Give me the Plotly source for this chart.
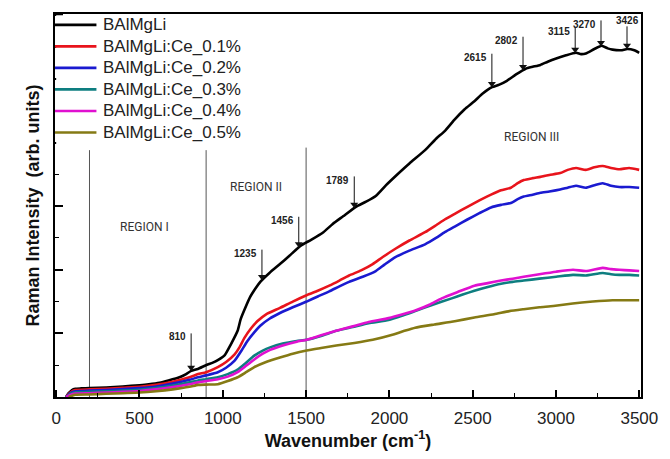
import numpy as np
import plotly.graph_objects as go

# ---------------- data ----------------
names = ["BAlMgLi", "BAlMgLi:Ce_0.1%", "BAlMgLi:Ce_0.2%", "BAlMgLi:Ce_0.3%",
         "BAlMgLi:Ce_0.4%", "BAlMgLi:Ce_0.5%"]
colors = ["#000000", "#e8141c", "#1a1ad0", "#0e7e80", "#e010d0", "#857a14"]

wn_black = [60, 75, 95, 115, 150, 200, 300, 400, 500, 556, 620, 674, 740, 780, 810, 850, 899, 940,
            970, 1012, 1047, 1089, 1107, 1130, 1166, 1200, 1225, 1280, 1343, 1400, 1468, 1530, 1604,
            1660, 1722, 1799, 1860, 1918, 1980, 2036, 2120, 2214, 2280, 2332, 2391, 2450, 2510, 2560,
            2616, 2660, 2705, 2760, 2818, 2860, 2906, 2950, 3001, 3060, 3120, 3150, 3179, 3230, 3274,
            3310, 3339, 3390, 3428, 3470, 3499]
int_black = [0.0, 0.06, 0.11, 0.13, 0.135, 0.14, 0.15, 0.165, 0.185, 0.20, 0.225, 0.26, 0.31, 0.36,
             0.41, 0.44, 0.50, 0.54, 0.58, 0.66, 0.82, 1.04, 1.22, 1.37, 1.58, 1.72, 1.81, 1.95, 2.09,
             2.22, 2.38, 2.47, 2.59, 2.72, 2.84, 2.99, 3.07, 3.16, 3.33, 3.47, 3.67, 3.88, 4.06, 4.18,
             4.36, 4.52, 4.65, 4.77, 4.87, 4.91, 4.97, 5.07, 5.16, 5.19, 5.22, 5.27, 5.32, 5.37, 5.41,
             5.39, 5.40, 5.47, 5.52, 5.48, 5.46, 5.45, 5.47, 5.45, 5.41]

wn_red = [60, 75, 95, 115, 200, 300, 400, 500, 600, 700, 800, 852, 900, 970, 1020, 1071, 1100, 1130,
          1170, 1207, 1260, 1343, 1420, 1503, 1570, 1639, 1700, 1758, 1830, 1900, 1960, 2036, 2120,
          2214, 2280, 2332, 2400, 2468, 2540, 2610, 2670, 2729, 2770, 2806, 2860, 2906, 2960, 3025,
          3070, 3120, 3179, 3230, 3280, 3330, 3380, 3439, 3499]
int_red = [0.0, 0.05, 0.09, 0.11, 0.12, 0.13, 0.145, 0.16, 0.19, 0.24, 0.31, 0.36, 0.39, 0.47, 0.55,
           0.67, 0.78, 0.93, 1.08, 1.19, 1.30, 1.40, 1.50, 1.60, 1.67, 1.75, 1.83, 1.91, 1.99, 2.09,
           2.20, 2.33, 2.46, 2.59, 2.70, 2.79, 2.89, 2.99, 3.09, 3.18, 3.25, 3.29, 3.36, 3.41, 3.44,
           3.46, 3.49, 3.52, 3.57, 3.60, 3.57, 3.61, 3.63, 3.60, 3.58, 3.60, 3.57]

wn_blue = [60, 75, 95, 115, 200, 300, 400, 500, 600, 700, 800, 852, 900, 970, 1020, 1071, 1110, 1148,
           1190, 1225, 1280, 1343, 1420, 1503, 1570, 1639, 1700, 1758, 1840, 1918, 1970, 2036, 2120,
           2214, 2280, 2332, 2400, 2468, 2540, 2610, 2670, 2729, 2770, 2806, 2860, 2906, 2960, 3025,
           3070, 3120, 3179, 3230, 3280, 3330, 3380, 3440, 3499]
int_blue = [0.0, 0.04, 0.075, 0.09, 0.10, 0.11, 0.125, 0.14, 0.165, 0.21, 0.27, 0.31, 0.34, 0.39,
            0.46, 0.57, 0.72, 0.88, 1.02, 1.12, 1.23, 1.32, 1.41, 1.50, 1.58, 1.66, 1.74, 1.81, 1.89,
            1.98, 2.08, 2.20, 2.30, 2.40, 2.50, 2.59, 2.69, 2.79, 2.89, 2.98, 3.02, 3.05, 3.11, 3.15,
            3.18, 3.21, 3.23, 3.26, 3.29, 3.32, 3.29, 3.33, 3.36, 3.32, 3.30, 3.30, 3.29]

wn_teal = [60, 75, 95, 115, 200, 300, 400, 500, 600, 700, 800, 852, 900, 970, 1030, 1089, 1140, 1189,
           1240, 1284, 1360, 1444, 1503, 1590, 1681, 1780, 1876, 1995, 2080, 2155, 2260, 2374, 2440,
           2510, 2590, 2670, 2740, 2806, 2900, 3001, 3102, 3179, 3280, 3330, 3380, 3440, 3499]
int_teal = [0.0, 0.03, 0.06, 0.075, 0.08, 0.09, 0.10, 0.115, 0.14, 0.18, 0.23, 0.26, 0.28, 0.31, 0.36,
            0.43, 0.54, 0.65, 0.73, 0.78, 0.84, 0.88, 0.90, 0.96, 1.04, 1.10, 1.16, 1.21, 1.28, 1.35,
            1.45, 1.55, 1.61, 1.67, 1.73, 1.78, 1.81, 1.83, 1.86, 1.89, 1.92, 1.91, 1.95, 1.93, 1.92,
            1.92, 1.91]

wn_mag = [60, 75, 95, 115, 200, 300, 400, 500, 600, 700, 800, 852, 900, 970, 1030, 1089, 1140, 1189,
          1240, 1284, 1360, 1444, 1503, 1590, 1681, 1780, 1876, 1995, 2080, 2155, 2240, 2314, 2410,
          2510, 2590, 2670, 2740, 2806, 2900, 3001, 3102, 3179, 3280, 3330, 3380, 3440, 3499]
int_mag = [0.0, 0.02, 0.045, 0.055, 0.06, 0.07, 0.08, 0.095, 0.12, 0.155, 0.20, 0.23, 0.25, 0.28,
           0.32, 0.39, 0.49, 0.59, 0.68, 0.74, 0.81, 0.87, 0.90, 0.97, 1.04, 1.11, 1.18, 1.24, 1.30,
           1.36, 1.45, 1.55, 1.65, 1.75, 1.79, 1.83, 1.86, 1.89, 1.93, 1.97, 2.00, 1.98, 2.03, 2.01,
           2.00, 1.99, 1.98]

wn_olive = [75, 95, 115, 200, 300, 400, 500, 600, 700, 800, 852, 900, 970, 1030, 1089, 1140, 1189,
            1260, 1343, 1420, 1503, 1590, 1681, 1790, 1900, 2018, 2090, 2155, 2270, 2392, 2510, 2628,
            2720, 2806, 2900, 2984, 3100, 3221, 3339, 3420, 3499]
int_olive = [0.0, 0.02, 0.035, 0.04, 0.05, 0.06, 0.07, 0.09, 0.12, 0.16, 0.19, 0.195, 0.20, 0.25,
             0.31, 0.39, 0.47, 0.55, 0.62, 0.68, 0.73, 0.77, 0.81, 0.85, 0.90, 0.98, 1.04, 1.09, 1.14,
             1.19, 1.25, 1.30, 1.35, 1.38, 1.41, 1.43, 1.47, 1.50, 1.52, 1.52, 1.52]

series_x = [wn_black, wn_red, wn_blue, wn_teal, wn_mag, wn_olive]
series_y = [int_black, int_red, int_blue, int_teal, int_mag, int_olive]

# region boundaries and their top heights (arb. units)
region_bounds = [200, 900, 1500]
region_tops = [3.88, 3.88, 3.92]
region_labels = ["REGION I", "REGION II", "REGION III"]
region_label_x = [532, 1201, 2853]
region_label_y = [2.67, 3.30, 4.08]

# marked peaks on the BAlMgLi curve
peaks = [810, 1235, 1456, 1789, 2615, 2802, 3115, 3270, 3426]
arrow_len_px = [38, 31, 31, 32, 34, 34, 26, 26, 23]

# ---------------- figure ----------------
W, H = 670, 459
ML, MR, MT, MB = 55, 21, 12, 59
PW, PH = W - ML - MR, H - MT - MB
Y_RANGE = [0, 6.02]
X_RANGE = [-7, 3510]
units_per_px = (Y_RANGE[1] - Y_RANGE[0]) / PH

fig = go.Figure()
for nm, c, xs, ys in zip(names, colors, series_x, series_y):
    fig.add_trace(go.Scatter(x=xs, y=ys, mode="lines", name=nm, showlegend=False,
                             line=dict(color=c, width=2.6, shape="spline", smoothing=0.5)))

for xb, yt in zip(region_bounds, region_tops):
    fig.add_shape(type="line", x0=xb, x1=xb, y0=0, y1=yt, xref="x", yref="y",
                  line=dict(color="#555555", width=1), layer="below")

for lab, lx, ly in zip(region_labels, region_label_x, region_label_y):
    fig.add_annotation(x=lx, y=ly, text=lab, showarrow=False,
                       font=dict(family="Roboto, Liberation Sans, Arial", size=12, color="#333333"))

# peak arrows: stem lines + triangle heads
head_y = np.interp(peaks, wn_black, int_black)
tip_offset = 3.5 * units_per_px
for p, hy, L in zip(peaks, head_y, arrow_len_px):
    fig.add_shape(type="line", xref="x", yref="y", x0=p, x1=p,
                  y0=hy + 4 * units_per_px, y1=hy + L * units_per_px,
                  line=dict(color="#111111", width=1))
    if p == 3426:
        fig.add_annotation(x=p, y=hy, text="<b>%d</b>" % p, showarrow=False,
                           xanchor="center", yanchor="bottom", yshift=L - 2,
                           font=dict(family="Liberation Sans, Arial", size=10, color="#222222"))
    else:
        fig.add_annotation(x=p, y=hy, text="<b>%d</b>" % p, showarrow=False,
                           xanchor="right", yanchor="middle", xshift=-3, yshift=L - 4,
                           font=dict(family="Liberation Sans, Arial", size=10, color="#222222"))
fig.add_trace(go.Scatter(x=peaks, y=head_y + tip_offset, mode="markers", showlegend=False,
                         hoverinfo="skip",
                         marker=dict(symbol="triangle-down", size=7, color="#111111",
                                     line=dict(width=0))))

# ----- legend drawn in the top-left corner of the plot (white box hides ticks) -----
def px_x(px):
    return (px - ML) / PW

def px_y(py):
    return (H - MB - py) / PH

fig.add_shape(type="rect", xref="paper", yref="paper",
              x0=px_x(56.2), x1=px_x(275), y0=px_y(146), y1=px_y(13.2),
              fillcolor="white", line=dict(width=0), layer="above")
row0, row_gap = 23.0, 21.8
for i, (nm, c) in enumerate(zip(names, colors)):
    ypx = row0 + i * row_gap
    fig.add_shape(type="line", xref="paper", yref="paper",
                  x0=px_x(55), x1=px_x(97), y0=px_y(ypx), y1=px_y(ypx),
                  line=dict(color=c, width=2.6), layer="above")
    fig.add_annotation(x=px_x(102), y=px_y(ypx), xref="paper", yref="paper",
                       xanchor="left", yanchor="middle", showarrow=False, text=nm,
                       font=dict(family="Liberation Sans, Arial", size=17, color="#222222"))

# y axis title
fig.add_annotation(x=0, y=0.5, xref="paper", yref="paper", xanchor="right", yanchor="middle",
                   xshift=-11, textangle=-90, showarrow=False,
                   text="<b>Raman Intensity  (arb. units)</b>",
                   font=dict(family="Liberation Sans, Arial", size=18, color="#111111"))

fig.update_layout(
    width=W, height=H,
    margin=dict(l=ML, r=MR, t=MT, b=MB),
    paper_bgcolor="white", plot_bgcolor="white",
    showlegend=False,
    xaxis=dict(range=X_RANGE, tickmode="linear", tick0=0, dtick=500,
               ticks="inside", ticklen=7, tickwidth=1.5, tickcolor="black",
               minor=dict(ticks="inside", ticklen=4, dtick=250, tickwidth=1.2, tickcolor="black"),
               showline=True, linecolor="black", linewidth=2, mirror=True,
               showgrid=False, zeroline=False, ticklabelstandoff=5,
               tickfont=dict(family="Liberation Sans, Arial", size=17, color="#222222"),
               title=dict(text="<b>Wavenumber (cm<sup>-1</sup>)</b>", standoff=6,
                          font=dict(family="Liberation Sans, Arial", size=18, color="#111111"))),
    yaxis=dict(range=Y_RANGE, tickmode="linear", tick0=0, dtick=1,
               ticks="inside", ticklen=8, tickwidth=1.5, tickcolor="black",
               minor=dict(ticks="inside", ticklen=4, dtick=0.5, tickwidth=1.2, tickcolor="black"),
               showticklabels=False,
               showline=True, linecolor="black", linewidth=2, mirror=True,
               showgrid=False, zeroline=False),
)

fig.write_html("out.html")
